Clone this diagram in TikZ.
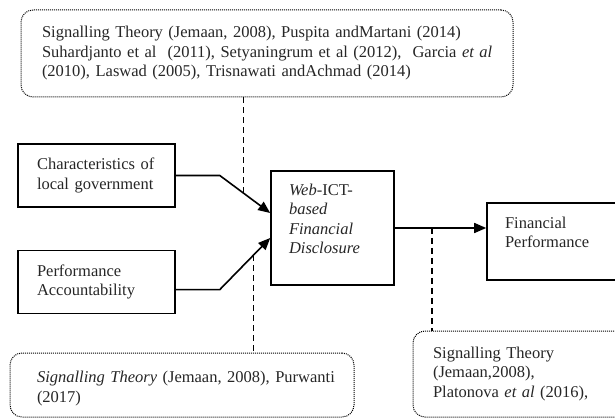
\documentclass[tikz,border=0pt]{standalone}
\usepackage{fontspec}
\setmainfont{Liberation Serif}
\usetikzlibrary{arrows.meta, positioning}

\begin{document}
\begin{tikzpicture}[x=1pt, y=-1pt,
    font=\fontsize{16.5}{19.5}\selectfont,
    var/.style={draw, line width=1.6pt, align=left, text=black!85},
    ref/.style={draw, densely dotted, line width=1pt, rounded corners=12pt, align=left, text=black!85},
    arr/.style={-{Triangle[length=12pt, width=10pt]}, line width=1.6pt},
    link/.style={line width=1.8pt, dash pattern=on 6pt off 4pt}
  ]
    \useasboundingbox (0,0) rectangle (615,419);
    \clip (0,0) rectangle (615,419);

    \node[var, inner xsep=18pt, text width=87pt, text depth=77pt, minimum height=114pt] (disc) at (332.5,228)
      {\textit{Web}-ICT-\\\textit{based}\\\textit{Financial}\\\textit{Disclosure}};
    \node[var, inner xsep=19pt, text width=119pt, minimum height=63pt] (char) at (96.5,175.5)
      {\mbox{Characteristics of}\\local government};
    \node[var, inner xsep=19pt, text width=119pt, minimum height=63pt, below=42pt of char] (perf)
      {Performance\\Accountability};
    \node[var, inner xsep=18pt, text width=117pt, text depth=38pt, minimum height=77pt] (fin) at (563.5,241.5)
      {Financial\\Performance};

    \node[ref, inner xsep=21pt, text width=450pt, minimum height=87pt] (top) at (267,53.5)
      {\mbox{Signalling Theory (Jemaan, 2008), Puspita andMartani (2014)}\\
       \mbox{Suhardjanto et al\ \ (2011), Setyaningrum et al (2012),\ \ Garcia \textit{et al}}\\
       \mbox{(2010), Laswad (2005), Trisnawati andAchmad (2014)}};
    \node[ref, inner xsep=27pt, text width=290pt, text depth=16pt, minimum height=64pt] (bl) at (182,385)
      {\mbox{\textit{Signalling Theory} (Jemaan, 2008), Purwanti}\\(2017)};
    \node[ref, inner xsep=20pt, text width=187pt, minimum height=86pt] (br) at (526.5,374)
      {Signalling Theory\\(Jemaan,2008),\\Platonova \textit{et al} (2016),};

    \draw[arr] (char.east) -- ++(44,0) -- coordinate[pos=.47] (t1) ([yshift=15pt]disc.west);
    \draw[arr] ([yshift=-7.5pt]perf.east) -- ++(44,0) -- coordinate[pos=.67] (t2) ([yshift=-10pt]disc.west);
    \draw[arr] (disc.east) -- coordinate[pos=.41] (t3) (disc.east -| fin.west);

    \draw[link] (top.south -| t1) -- (t1);
    \draw[link] (t2) -- (t2 |- bl.north);
    \draw[link] (t3) -- (t3 |- br.north);
  \end{tikzpicture}
\end{document}
